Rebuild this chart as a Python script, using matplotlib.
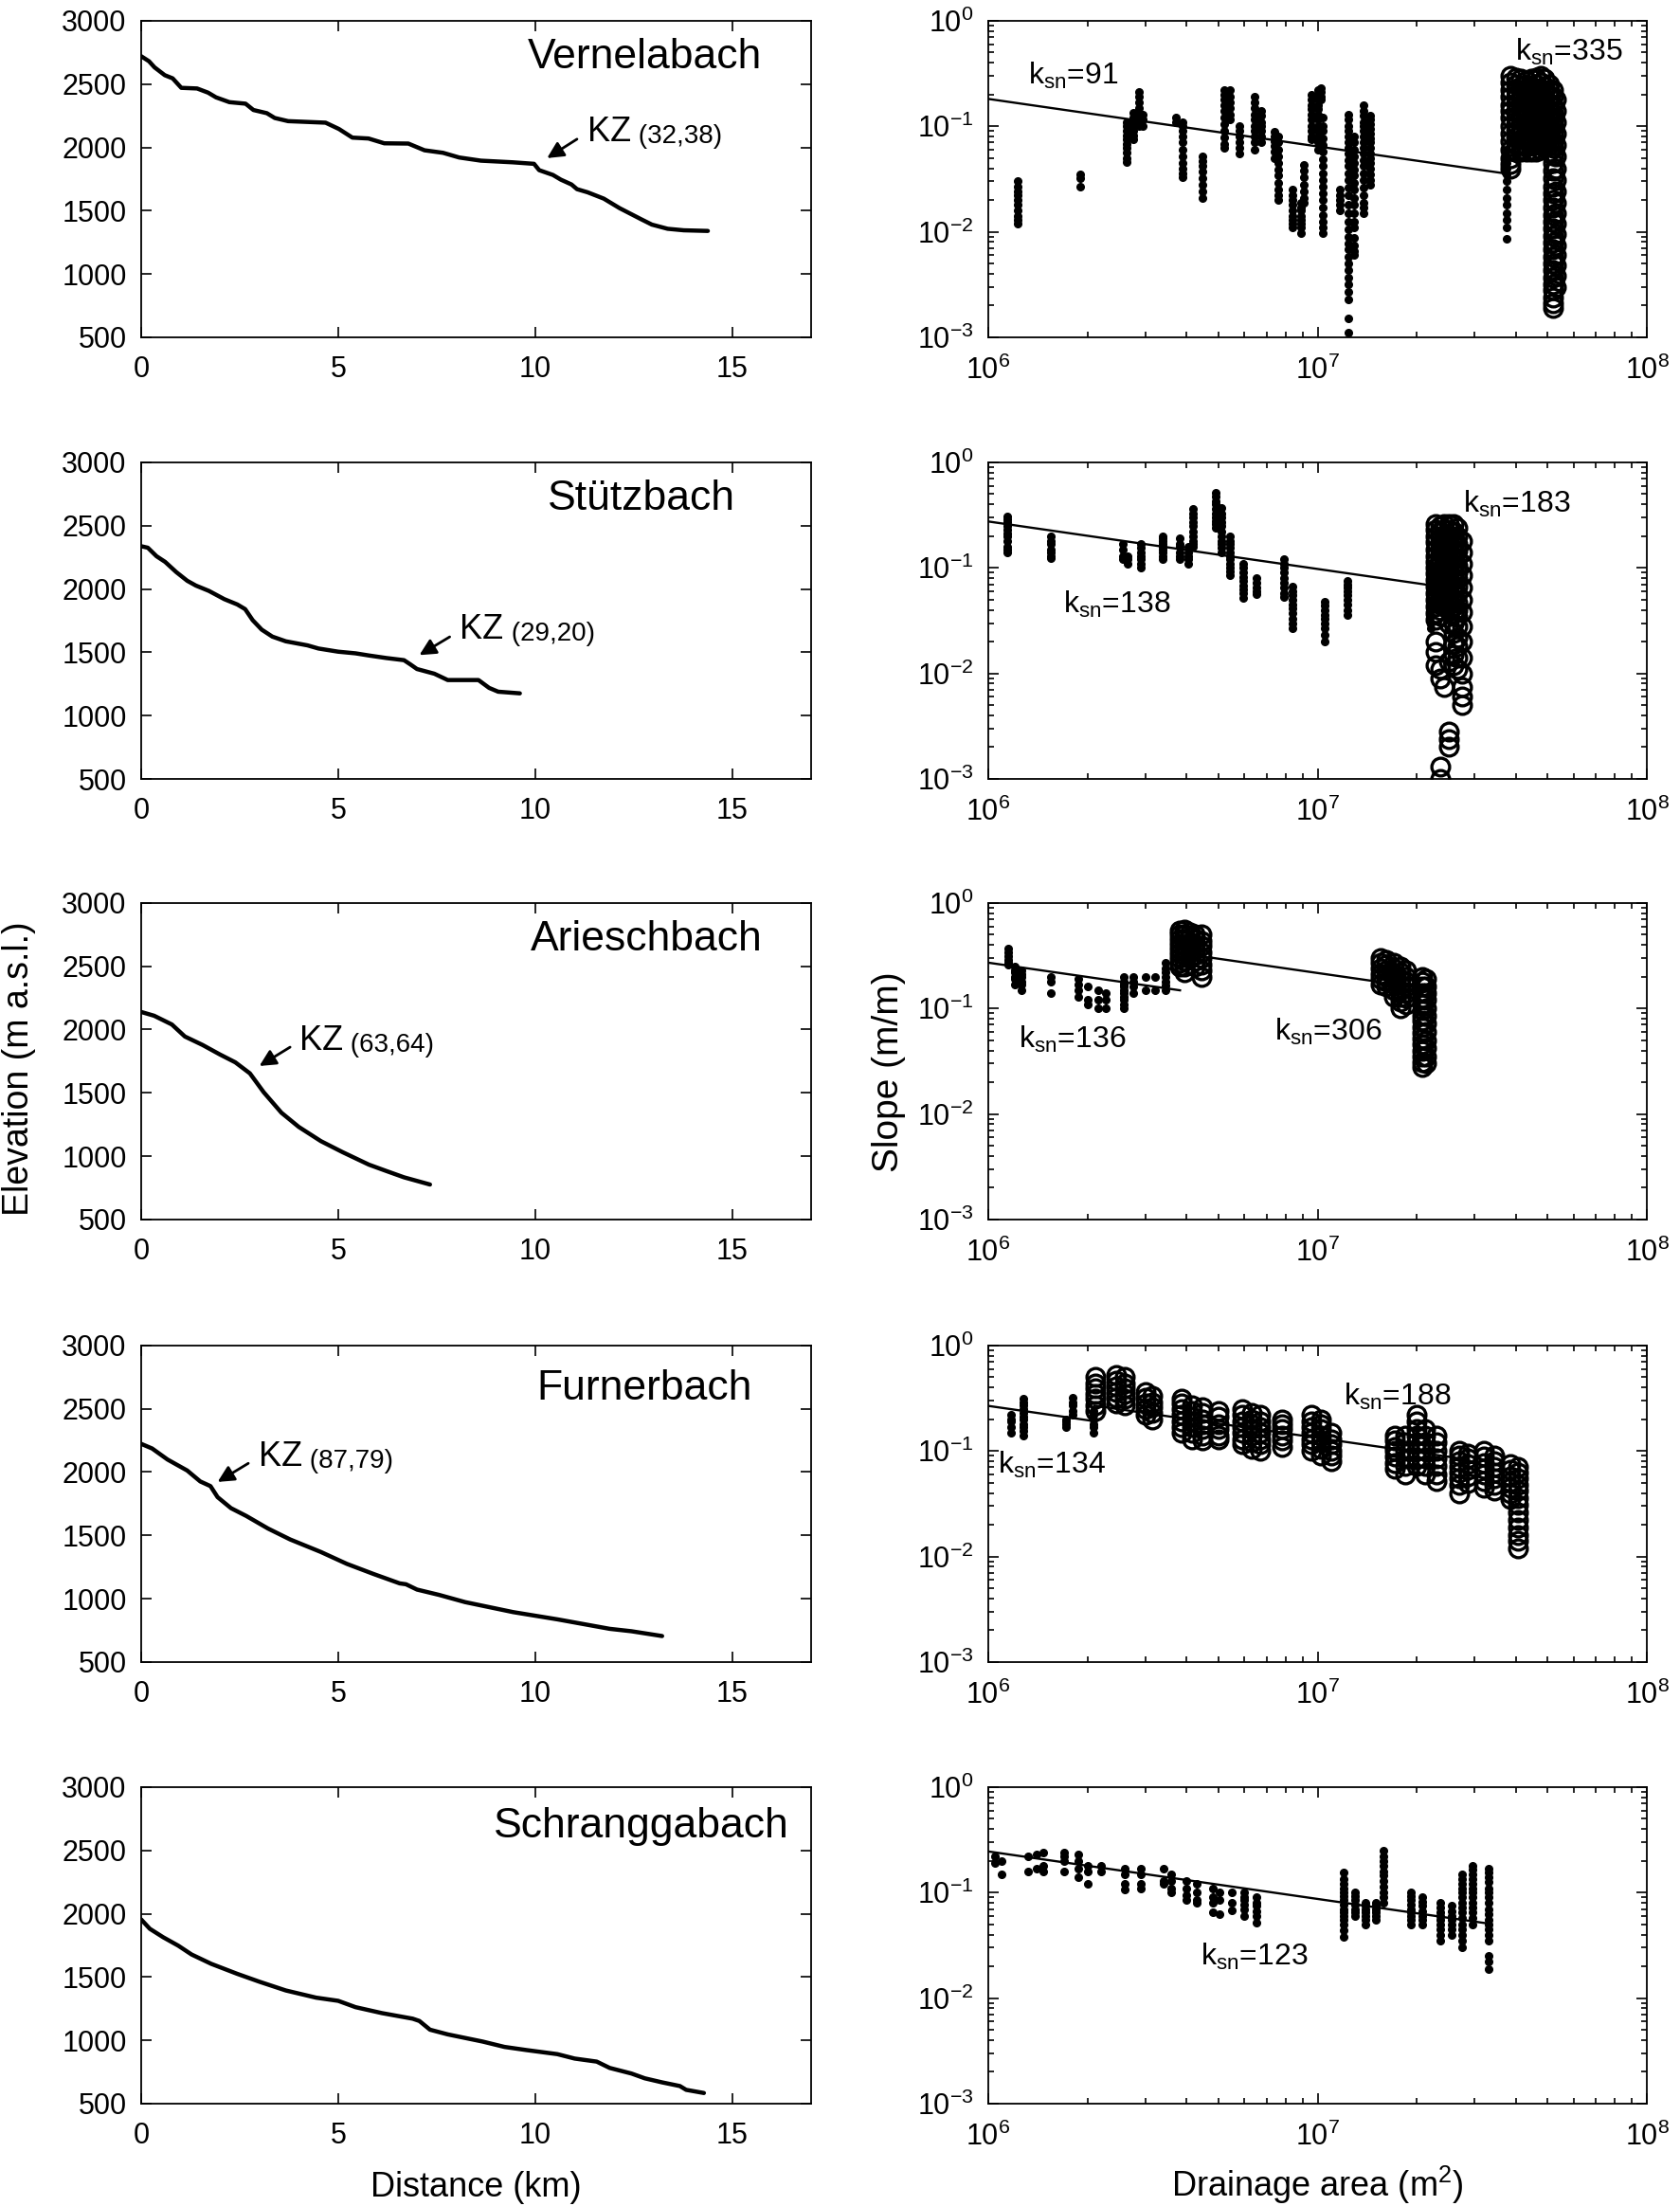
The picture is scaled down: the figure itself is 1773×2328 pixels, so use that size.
import matplotlib
matplotlib.use('Agg')
import matplotlib.pyplot as plt

plt.rcParams['font.family'] = ['Liberation Sans', 'DejaVu Sans']
plt.rcParams['mathtext.fontset'] = 'custom'
plt.rcParams['mathtext.rm'] = 'Liberation Sans'
plt.rcParams['mathtext.it'] = 'Liberation Sans:italic'
plt.rcParams['mathtext.bf'] = 'Liberation Sans:bold'

# ---------------- longitudinal profiles (distance km, elevation m) ----------------
vern_dist = [0, 0.2, 0.34, 0.6, 0.8, 1.02, 1.42, 1.7, 1.9, 2.24, 2.65, 2.85, 3.19, 3.39, 3.73,
             4.68, 5.02, 5.36, 5.77, 6.17, 6.78, 7.19, 7.66, 8.07, 8.62, 9.43, 9.97, 10.1,
             10.45, 10.65, 10.92, 11.06, 11.33, 11.74, 12.14, 12.69, 12.96, 13.36, 13.77, 14.38]
vern_elev = [2720, 2680, 2632, 2570, 2545, 2470, 2465, 2432, 2395, 2357, 2345, 2295, 2270, 2232, 2207,
             2195, 2145, 2077, 2070, 2032, 2030, 1977, 1957, 1920, 1895, 1882, 1870, 1820,
             1782, 1745, 1707, 1670, 1645, 1595, 1520, 1432, 1390, 1357, 1345, 1340]

stue_dist = [0, 0.17, 0.39, 0.61, 0.89, 1.17, 1.39, 1.72, 2.11, 2.44, 2.64, 2.83, 3.06, 3.33, 3.67,
             4.22, 4.5, 5.0, 5.44, 5.78, 6.22, 6.67, 6.83, 7.0, 7.44, 7.78, 8.56, 8.83, 9.06, 9.61]
stue_elev = [2338, 2326, 2259, 2214, 2134, 2065, 2027, 1985, 1920, 1878, 1841, 1754, 1679, 1624, 1587,
             1555, 1530, 1505, 1492, 1475, 1455, 1438, 1405, 1368, 1331, 1281, 1281, 1219, 1189, 1176]

arie_dist = [0, 0.33, 0.78, 1.11, 1.56, 2.0, 2.39, 2.76, 3.11, 3.56, 4.0, 4.56, 5.11, 5.78, 6.22,
             6.67, 7.33]
arie_elev = [2139, 2109, 2040, 1945, 1878, 1803, 1741, 1654, 1505, 1343, 1231, 1119, 1032, 933, 883,
             833, 776]

furn_dist = [0, 0.28, 0.67, 1.17, 1.5, 1.76, 1.94, 2.28, 2.67, 3.22, 3.78, 4.56, 5.22, 5.89, 6.56,
             6.72, 7.0, 7.56, 8.22, 9.44, 10.56, 11.89, 12.44, 13.22]
furn_elev = [2223, 2186, 2099, 2012, 1926, 1889, 1802, 1715, 1653, 1554, 1468, 1369, 1275, 1196, 1121,
             1114, 1072, 1030, 973, 894, 837, 762, 743, 705]

schr_dist = [0, 0.22, 0.56, 0.94, 1.28, 1.78, 2.44, 3.0, 3.67, 4.44, 5.0, 5.44, 6.11, 6.89, 7.06,
             7.33, 7.78, 8.67, 9.22, 9.78, 10.56, 11.0, 11.56, 11.89, 12.44, 12.78, 13.22, 13.67,
             13.83, 14.28]
schr_elev = [1955, 1881, 1814, 1748, 1678, 1604, 1525, 1463, 1394, 1337, 1312, 1262, 1215, 1171, 1153,
             1084, 1047, 990, 948, 923, 891, 856, 832, 782, 738, 700, 668, 639, 609, 584]

# knickzones: label, arrow tip, arrow tail, "KZ" text position (km, m)
kz_labels = ['(32,38)', '(29,20)', '(63,64)', '(87,79)', None]
kz_tip = [(10.3, 1915), (7.06, 1478), (3.0, 1712), (1.94, 1922), None]
kz_tail = [(11.06, 2065), (7.83, 1622), (3.78, 1861), (2.72, 2069), None]
kz_text = [(11.33, 2045), (8.09, 1604), (4.02, 1841), (2.98, 2050), None]

names = ['Vernelabach', 'Stützbach', 'Arieschbach', 'Furnerbach', 'Schranggabach']
name_pos = [(0.927, 0.883), (0.887, 0.885), (0.927, 0.885), (0.912, 0.862), (0.967, 0.877)]

# ---------------- slope-area data (drainage area m2, slope m/m) ----------------
vern_dot_area = [1.23e6, 1.9e6, 2.63e6, 2.75e6, 2.86e6, 2.95e6, 3.7e6, 3.9e6, 4.47e6, 5.2e6, 5.42e6,
                 5.8e6, 6.43e6, 6.73e6, 7.38e6, 7.6e6, 8.4e6, 8.9e6, 9.07e6, 9.6e6, 1.0e7, 1.02e7,
                 1.04e7, 1.17e7, 1.24e7, 1.29e7, 1.38e7, 1.44e7, 3.75e7]
vern_dot_slope = [
    [0.03, 0.027, 0.024, 0.022, 0.02, 0.018, 0.016, 0.014, 0.013, 0.012],
    [0.035, 0.032, 0.027],
    [0.11, 0.1, 0.09, 0.082, 0.075, 0.068, 0.062, 0.056, 0.05, 0.046],
    [0.133, 0.12, 0.11, 0.1, 0.09, 0.082, 0.075],
    [0.21, 0.19, 0.17, 0.15, 0.135, 0.12, 0.11, 0.1],
    [0.13, 0.115, 0.1],
    [0.12, 0.11],
    [0.11, 0.1, 0.09, 0.08, 0.07, 0.06, 0.052, 0.045, 0.04, 0.036, 0.033],
    [0.052, 0.047, 0.042, 0.037, 0.032, 0.028, 0.024, 0.021],
    [0.22, 0.2, 0.18, 0.16, 0.14, 0.12, 0.105, 0.09, 0.078, 0.068, 0.062],
    [0.22, 0.19, 0.17, 0.15, 0.13, 0.115],
    [0.1, 0.09, 0.08, 0.07, 0.062, 0.055],
    [0.19, 0.17, 0.15, 0.13, 0.115, 0.1, 0.09, 0.08, 0.07, 0.06],
    [0.14, 0.125, 0.11, 0.1, 0.09, 0.08, 0.07],
    [0.088, 0.08, 0.072, 0.065, 0.057, 0.05],
    [0.08, 0.07, 0.06, 0.052, 0.045, 0.039, 0.034, 0.029, 0.025, 0.022, 0.02],
    [0.025, 0.022, 0.02, 0.018, 0.016, 0.014, 0.013, 0.012, 0.011],
    [0.019, 0.017, 0.016, 0.014, 0.013, 0.012, 0.011, 0.0098],
    [0.043, 0.038, 0.033, 0.028, 0.024, 0.021, 0.019],
    [0.2, 0.18, 0.16, 0.145, 0.13, 0.115, 0.1, 0.09, 0.08, 0.075],
    [0.22, 0.2, 0.18, 0.16, 0.145, 0.13, 0.115, 0.1, 0.09, 0.08, 0.07, 0.06],
    [0.23, 0.21, 0.19, 0.18],
    [0.12, 0.1, 0.09, 0.077, 0.066, 0.057, 0.049, 0.042, 0.036, 0.031, 0.027, 0.023, 0.02, 0.017,
     0.0145, 0.0125, 0.011, 0.0098],
    [0.025, 0.022, 0.02, 0.018, 0.016],
    [0.13, 0.115, 0.1, 0.09, 0.08, 0.07, 0.062, 0.055, 0.048, 0.042, 0.036, 0.031, 0.026, 0.022,
     0.018, 0.015, 0.0125, 0.0105, 0.009, 0.0078, 0.0068, 0.0058, 0.005, 0.0043, 0.0037, 0.0032,
     0.0027, 0.0023, 0.0015, 0.0011],
    [0.08, 0.07, 0.06, 0.052, 0.045, 0.039, 0.034, 0.029, 0.025, 0.021, 0.018, 0.015, 0.0125,
     0.011, 0.0088, 0.0075, 0.0065, 0.006],
    [0.16, 0.14, 0.125, 0.11, 0.1, 0.09, 0.08, 0.07, 0.062, 0.055, 0.048, 0.042, 0.036, 0.031,
     0.026, 0.022, 0.019, 0.017, 0.015],
    [0.125, 0.115, 0.105, 0.095, 0.085, 0.077, 0.07, 0.062, 0.055, 0.05, 0.045, 0.04, 0.035, 0.031,
     0.028],
    [0.06, 0.052, 0.045, 0.04, 0.035, 0.03, 0.025, 0.021, 0.018, 0.015, 0.013, 0.011, 0.0085],
]
vern_circ_area = [3.85e7, 4.0e7, 4.15e7, 4.3e7, 4.45e7, 4.6e7, 4.75e7, 4.9e7, 5.05e7, 5.2e7, 5.3e7]
vern_circ_slope = [
    [0.3, 0.26, 0.22, 0.19, 0.16, 0.14, 0.12, 0.1, 0.085, 0.072, 0.06, 0.05, 0.044, 0.04],
    [0.29, 0.25, 0.22, 0.19, 0.165, 0.14, 0.12, 0.105, 0.09, 0.078, 0.066, 0.058],
    [0.28, 0.24, 0.21, 0.18, 0.155, 0.135, 0.115, 0.1, 0.088, 0.076, 0.066, 0.058],
    [0.27, 0.23, 0.2, 0.175, 0.15, 0.13, 0.112, 0.097, 0.085, 0.074, 0.064, 0.058],
    [0.28, 0.24, 0.21, 0.18, 0.155, 0.135, 0.115, 0.1, 0.088, 0.076, 0.066, 0.058],
    [0.29, 0.25, 0.22, 0.19, 0.165, 0.14, 0.12, 0.105, 0.09, 0.078, 0.066, 0.058],
    [0.3, 0.26, 0.22, 0.19, 0.165, 0.14, 0.12, 0.105, 0.09, 0.078, 0.066, 0.06],
    [0.28, 0.24, 0.21, 0.18, 0.155, 0.135, 0.115, 0.1, 0.088, 0.076, 0.066],
    [0.25, 0.22, 0.19, 0.165, 0.14, 0.12, 0.105, 0.09, 0.078, 0.066, 0.057],
    [0.22, 0.19, 0.16, 0.135, 0.115, 0.1, 0.085, 0.072, 0.062, 0.053, 0.045, 0.038, 0.032, 0.027,
     0.023, 0.02, 0.017, 0.0145, 0.0125, 0.0107, 0.0092, 0.0079, 0.0068, 0.0058, 0.005, 0.0043,
     0.0037, 0.0032, 0.0028, 0.0024, 0.0021, 0.0019],
    [0.18, 0.14, 0.11, 0.085, 0.066, 0.052, 0.04, 0.031, 0.024, 0.019, 0.015, 0.012, 0.0095,
     0.0075, 0.006, 0.0048, 0.0038, 0.003],
]

stue_dot_area = [1.14e6, 1.55e6, 2.56e6, 2.65e6, 2.9e6, 3.38e6, 3.8e6, 4.05e6, 4.17e6, 4.9e6, 5.1e6,
                 5.4e6, 5.96e6, 6.5e6, 7.9e6, 8.4e6, 1.05e7, 1.23e7, 2.2e7]
stue_dot_slope = [
    [0.31, 0.29, 0.27, 0.25, 0.23, 0.21, 0.2, 0.18, 0.16, 0.15, 0.14],
    [0.2, 0.18, 0.17, 0.15, 0.14, 0.13, 0.123],
    [0.17, 0.15, 0.13, 0.12],
    [0.13, 0.12, 0.11],
    [0.17, 0.155, 0.14, 0.13, 0.12, 0.11, 0.1],
    [0.2, 0.19, 0.18, 0.17, 0.16, 0.15, 0.14, 0.13, 0.12],
    [0.19, 0.17, 0.16, 0.14, 0.13, 0.12],
    [0.16, 0.14, 0.13, 0.12, 0.11],
    [0.36, 0.33, 0.3, 0.27, 0.25, 0.22, 0.2, 0.18, 0.17, 0.16],
    [0.52, 0.47, 0.43, 0.4, 0.36, 0.33, 0.3, 0.28, 0.26, 0.24],
    [0.37, 0.33, 0.3, 0.27, 0.25, 0.22, 0.2, 0.18, 0.17, 0.155, 0.14],
    [0.2, 0.18, 0.17, 0.155, 0.14, 0.13, 0.12, 0.11, 0.1, 0.092, 0.085],
    [0.11, 0.1, 0.09, 0.082, 0.075, 0.068, 0.062, 0.057, 0.052],
    [0.08, 0.072, 0.065, 0.06, 0.056],
    [0.12, 0.11, 0.1, 0.09, 0.08, 0.072, 0.065, 0.058, 0.053],
    [0.066, 0.06, 0.055, 0.05, 0.045, 0.041, 0.037, 0.033, 0.03, 0.027],
    [0.048, 0.044, 0.04, 0.036, 0.033, 0.03, 0.027, 0.023, 0.02],
    [0.075, 0.07, 0.065, 0.06, 0.055, 0.05, 0.045, 0.04, 0.036],
    [0.1, 0.085, 0.07, 0.06, 0.05, 0.042, 0.035, 0.03, 0.027],
]
stue_circ_area = [2.28e7, 2.35e7, 2.42e7, 2.5e7, 2.58e7, 2.66e7, 2.75e7]
stue_circ_slope = [
    [0.26, 0.23, 0.2, 0.175, 0.15, 0.13, 0.115, 0.1, 0.088, 0.077, 0.066, 0.057, 0.05, 0.043,
     0.037, 0.032, 0.02, 0.016, 0.012],
    [0.25, 0.22, 0.19, 0.165, 0.145, 0.125, 0.11, 0.095, 0.082, 0.07, 0.06, 0.052, 0.045, 0.04,
     0.035, 0.011, 0.009, 0.0013, 0.001],
    [0.26, 0.23, 0.2, 0.175, 0.15, 0.13, 0.115, 0.1, 0.088, 0.077, 0.066, 0.057, 0.05, 0.043,
     0.0075],
    [0.26, 0.23, 0.2, 0.17, 0.145, 0.125, 0.11, 0.095, 0.082, 0.07, 0.06, 0.052, 0.045, 0.04, 0.03,
     0.013, 0.0028, 0.0024, 0.002],
    [0.26, 0.22, 0.19, 0.165, 0.14, 0.12, 0.105, 0.09, 0.078, 0.066, 0.057, 0.05, 0.043, 0.037,
     0.03, 0.024, 0.019, 0.015, 0.012],
    [0.24, 0.2, 0.17, 0.145, 0.125, 0.105, 0.09, 0.078, 0.066, 0.056, 0.047, 0.04, 0.034, 0.028,
     0.022, 0.018, 0.014, 0.011],
    [0.18, 0.14, 0.11, 0.085, 0.065, 0.05, 0.038, 0.028, 0.02, 0.014, 0.01, 0.0075, 0.006, 0.005],
]

arie_dot_area = [1.15e6, 1.2e6, 1.26e6, 1.55e6, 1.88e6, 2.0e6, 2.15e6, 2.28e6, 2.58e6, 2.75e6, 3.0e6,
                 3.2e6, 3.45e6]
arie_dot_slope = [
    [0.37, 0.34, 0.31, 0.29, 0.27, 0.26],
    [0.25, 0.23, 0.22, 0.2, 0.19, 0.17],
    [0.23, 0.21, 0.2, 0.18, 0.17, 0.15],
    [0.2, 0.18, 0.14],
    [0.19, 0.17, 0.15, 0.13],
    [0.16, 0.12, 0.11],
    [0.15, 0.12, 0.1],
    [0.14, 0.12, 0.1],
    [0.2, 0.18, 0.17, 0.16, 0.15, 0.14, 0.13, 0.12, 0.11, 0.1],
    [0.2, 0.18, 0.16, 0.14],
    [0.2, 0.15],
    [0.2, 0.15],
    [0.27, 0.24, 0.22, 0.2, 0.18, 0.165, 0.15],
]
arie_circ_area = [3.8e6, 3.95e6, 4.1e6, 4.25e6, 4.45e6, 1.55e7, 1.62e7, 1.7e7, 1.78e7, 1.86e7,
                  2.08e7, 2.14e7]
arie_circ_slope = [
    [0.55, 0.5, 0.45, 0.41, 0.37, 0.33, 0.3, 0.27, 0.25],
    [0.56, 0.5, 0.45, 0.4, 0.36, 0.32, 0.28, 0.25, 0.22],
    [0.53, 0.47, 0.42, 0.38, 0.34, 0.3],
    [0.5, 0.45, 0.4, 0.36, 0.32, 0.28, 0.25],
    [0.5, 0.44, 0.39, 0.34, 0.3, 0.26, 0.23, 0.2],
    [0.3, 0.27, 0.24, 0.21, 0.19, 0.17],
    [0.29, 0.26, 0.23, 0.2, 0.18, 0.16],
    [0.27, 0.24, 0.21, 0.19, 0.17, 0.15, 0.13],
    [0.25, 0.22, 0.19, 0.17, 0.15, 0.13, 0.115, 0.1],
    [0.23, 0.2, 0.18, 0.16, 0.14, 0.125, 0.11],
    [0.2, 0.18, 0.16, 0.14, 0.125, 0.11, 0.097, 0.086, 0.076, 0.067, 0.059, 0.052, 0.046, 0.04,
     0.035, 0.031, 0.028],
    [0.19, 0.16, 0.14, 0.12, 0.1, 0.085, 0.072, 0.06, 0.05, 0.042, 0.035, 0.03],
]

furn_dot_area = [1.17e6, 1.28e6, 1.72e6, 1.8e6, 2.08e6]
furn_dot_slope = [
    [0.22, 0.2, 0.19, 0.17, 0.15],
    [0.31, 0.29, 0.27, 0.25, 0.23, 0.21, 0.2, 0.18, 0.17, 0.155, 0.14],
    [0.2, 0.19, 0.18, 0.17],
    [0.32, 0.29, 0.27, 0.24, 0.22],
    [0.24, 0.22, 0.2, 0.18, 0.17, 0.15],
]
furn_circ_area = [2.12e6, 2.45e6, 2.6e6, 3.0e6, 3.15e6, 3.85e6, 4.15e6, 4.46e6, 5.0e6, 5.9e6, 6.3e6,
                  6.7e6, 7.8e6, 9.6e6, 1.02e7, 1.1e7, 1.72e7, 1.85e7, 2.0e7, 2.12e7, 2.3e7, 2.7e7,
                  2.85e7, 3.2e7, 3.45e7, 3.85e7, 4.05e7]
furn_circ_slope = [
    [0.5, 0.44, 0.39, 0.35, 0.31, 0.27, 0.24],
    [0.52, 0.46, 0.41, 0.36, 0.32, 0.28],
    [0.5, 0.44, 0.39, 0.35, 0.31, 0.27],
    [0.36, 0.32, 0.28, 0.25, 0.22],
    [0.33, 0.29, 0.26, 0.23, 0.2],
    [0.31, 0.28, 0.25, 0.22, 0.19, 0.17, 0.15],
    [0.27, 0.24, 0.21, 0.19, 0.17, 0.15, 0.13],
    [0.26, 0.23, 0.2, 0.18, 0.16, 0.14, 0.125],
    [0.24, 0.21, 0.18, 0.16, 0.14, 0.13],
    [0.25, 0.22, 0.19, 0.17, 0.15, 0.13, 0.115],
    [0.23, 0.2, 0.18, 0.16, 0.14, 0.12, 0.105],
    [0.22, 0.19, 0.17, 0.15, 0.13, 0.115, 0.1],
    [0.2, 0.18, 0.16, 0.14, 0.125, 0.11],
    [0.22, 0.19, 0.17, 0.15, 0.13, 0.115, 0.1],
    [0.2, 0.18, 0.16, 0.14, 0.12, 0.105, 0.09],
    [0.15, 0.13, 0.115, 0.1, 0.09, 0.08],
    [0.14, 0.125, 0.11, 0.1, 0.088, 0.077, 0.068],
    [0.14, 0.12, 0.1, 0.085, 0.072, 0.06],
    [0.22, 0.19, 0.16, 0.14, 0.12, 0.1, 0.085, 0.072],
    [0.16, 0.14, 0.12, 0.1, 0.085, 0.072, 0.06],
    [0.14, 0.12, 0.1, 0.085, 0.072, 0.06, 0.052],
    [0.1, 0.09, 0.08, 0.07, 0.062, 0.055, 0.048, 0.04],
    [0.095, 0.085, 0.075, 0.066, 0.058, 0.05],
    [0.1, 0.088, 0.077, 0.068, 0.06, 0.052, 0.045],
    [0.09, 0.08, 0.07, 0.062, 0.055, 0.048, 0.042],
    [0.075, 0.066, 0.058, 0.051, 0.045, 0.04, 0.035],
    [0.07, 0.062, 0.055, 0.048, 0.042, 0.036, 0.031, 0.026, 0.022, 0.019, 0.016, 0.014, 0.012],
]

schr_dot_area = [1.05e6, 1.1e6, 1.32e6, 1.4e6, 1.47e6, 1.7e6, 1.87e6, 2.0e6, 2.2e6, 2.6e6, 2.9e6,
                 3.4e6, 3.6e6, 4.0e6, 4.3e6, 4.8e6, 5.05e6, 5.5e6, 6.0e6, 6.5e6, 1.2e7, 1.3e7,
                 1.4e7, 1.5e7, 1.58e7, 1.92e7, 2.08e7, 2.35e7, 2.55e7, 2.75e7, 2.95e7, 3.3e7]
schr_dot_slope = [
    [0.22, 0.19], [0.2, 0.15], [0.22, 0.16], [0.23, 0.17], [0.24, 0.18, 0.16],
    [0.24, 0.22, 0.2, 0.16], [0.23, 0.2, 0.17, 0.14], [0.18, 0.16, 0.12], [0.18, 0.16],
    [0.17, 0.15, 0.12, 0.106], [0.17, 0.15, 0.12, 0.11], [0.17, 0.13, 0.12],
    [0.15, 0.13, 0.11, 0.1], [0.13, 0.11, 0.095, 0.085], [0.12, 0.1, 0.085, 0.08],
    [0.11, 0.09, 0.08, 0.065], [0.1, 0.085, 0.063], [0.1, 0.08, 0.068],
    [0.1, 0.09, 0.085, 0.077, 0.07, 0.06], [0.09, 0.08, 0.075, 0.066, 0.06, 0.052],
    [0.155, 0.135, 0.12, 0.11, 0.1, 0.092, 0.085, 0.077, 0.07, 0.065, 0.06, 0.055, 0.05, 0.044,
     0.038],
    [0.1, 0.092, 0.085, 0.077, 0.07, 0.065, 0.06], [0.08, 0.075, 0.07, 0.065, 0.06, 0.055, 0.05],
    [0.08, 0.075, 0.07, 0.065, 0.06, 0.055],
    [0.25, 0.22, 0.2, 0.18, 0.16, 0.145, 0.13, 0.115, 0.1, 0.09, 0.08],
    [0.1, 0.092, 0.085, 0.077, 0.07, 0.065, 0.06, 0.055, 0.05],
    [0.09, 0.082, 0.075, 0.067, 0.06, 0.055, 0.05],
    [0.08, 0.072, 0.065, 0.06, 0.055, 0.05, 0.045, 0.04, 0.035],
    [0.075, 0.067, 0.06, 0.055, 0.05, 0.045, 0.04],
    [0.15, 0.135, 0.12, 0.11, 0.1, 0.09, 0.08, 0.072, 0.065, 0.058, 0.05, 0.045, 0.04, 0.035, 0.03],
    [0.18, 0.165, 0.15, 0.135, 0.12, 0.11, 0.1, 0.09, 0.08, 0.072, 0.065, 0.058, 0.05],
    [0.17, 0.155, 0.14, 0.125, 0.11, 0.1, 0.09, 0.08, 0.07, 0.062, 0.055, 0.05, 0.045, 0.04,
     0.035, 0.025, 0.022, 0.019],
]
schr_circ_area = []
schr_circ_slope = []

# steepness fits, S = ksn * A^-theta, drawn between the listed areas
theta_ref = 0.45
fit_ksn = [[91], [138], [136, 306], [134, 188], [123]]
fit_range = [[(1e6, 3.6e7)], [(1e6, 2.2e7)], [(1e6, 3.82e6), (3.85e6, 1.52e7)],
             [(1e6, 2.1e6), (2.1e6, 2.7e7)], [(1e6, 3.37e7)]]
ksn_labels = [[('91', 0.06, 0.80), ('335', 0.80, 0.873)],
              [('138', 0.113, 0.525), ('183', 0.721, 0.841)],
              [('136', 0.046, 0.542), ('306', 0.434, 0.567)],
              [('134', 0.014, 0.597), ('188', 0.539, 0.811)],
              [('123', 0.322, 0.437)]]

profiles = [(vern_dist, vern_elev), (stue_dist, stue_elev), (arie_dist, arie_elev),
            (furn_dist, furn_elev), (schr_dist, schr_elev)]
sa_data = [(vern_dot_area, vern_dot_slope, vern_circ_area, vern_circ_slope),
           (stue_dot_area, stue_dot_slope, stue_circ_area, stue_circ_slope),
           (arie_dot_area, arie_dot_slope, arie_circ_area, arie_circ_slope),
           (furn_dot_area, furn_dot_slope, furn_circ_area, furn_circ_slope),
           (schr_dot_area, schr_dot_slope, schr_circ_area, schr_circ_slope)]


def flatten(areas, slopes):
    xs, ys = [], []
    for a, ss in zip(areas, slopes):
        xs += [a] * len(ss)
        ys += list(ss)
    return xs, ys


def style_axes(ax):
    for sp in ax.spines.values():
        sp.set_linewidth(1.3)
    ax.tick_params(which='both', direction='in', top=True, right=True, labelsize=22, width=1.2)
    ax.tick_params(which='major', length=8)
    ax.tick_params(which='minor', length=4)
    ax.tick_params(axis='x', which='major', pad=14)
    ax.tick_params(axis='y', which='major', pad=11)


fig = plt.figure(figsize=(17.73, 23.28), dpi=100)

row_y0 = [0.8471, 0.6469, 0.4472, 0.2466, 0.0464]
row_h = 0.1435

for i in range(5):
    # ----- profile -----
    ax = fig.add_axes([0.0840, row_y0[i], 0.3988, row_h])
    dist, elev = profiles[i]
    ax.plot(dist, elev, color='k', lw=3.2, solid_capstyle='round', solid_joinstyle='round')
    ax.set_xlim(0, 17)
    ax.set_ylim(500, 3000)
    ax.set_xticks([0, 5, 10, 15])
    ax.set_yticks([500, 1000, 1500, 2000, 2500, 3000])
    style_axes(ax)
    ax.text(name_pos[i][0], name_pos[i][1], names[i], transform=ax.transAxes,
            ha='right', va='center', fontsize=32)
    if kz_labels[i] is not None:
        ax.annotate('', xy=kz_tip[i], xytext=kz_tail[i],
                    arrowprops=dict(arrowstyle='-|>', color='k', lw=2, mutation_scale=26,
                                    shrinkA=0, shrinkB=0))
        t = ax.text(kz_text[i][0], kz_text[i][1], 'KZ', fontsize=26, ha='left', va='baseline')
        ax.annotate(' ' + kz_labels[i], xy=(1, 0), xycoords=t, ha='left', va='bottom',
                    fontsize=20)

    # ----- slope-area -----
    bx = fig.add_axes([0.5883, row_y0[i], 0.392, row_h])
    bx.set_xscale('log')
    bx.set_yscale('log')
    dot_a, dot_s, circ_a, circ_s = sa_data[i]
    x, y = flatten(dot_a, dot_s)
    bx.plot(x, y, 'o', ms=5.5, color='k', mec='k', ls='none')
    if circ_a:
        x, y = flatten(circ_a, circ_s)
        bx.plot(x, y, 'o', ms=13.5, mfc='none', mec='k', mew=2.4, ls='none')
    for k, (a0, a1) in zip(fit_ksn[i], fit_range[i]):
        bx.plot([a0, a1], [k * a0 ** -theta_ref, k * a1 ** -theta_ref], color='k', lw=1.7)
    for val, fx, fy in ksn_labels[i]:
        bx.text(fx, fy, r'k$_{\mathrm{sn}}$=' + val, transform=bx.transAxes,
                ha='left', va='baseline', fontsize=23)
    bx.set_xlim(1e6, 1e8)
    bx.set_ylim(1e-3, 1e0)
    style_axes(bx)

fig.text(502 / 1773, 1 - 2318 / 2328, 'Distance (km)', ha='center', va='baseline', fontsize=26)
fig.text(1390 / 1773, 1 - 2318 / 2328, r'Drainage area (m$^{\mathrm{2}}$)', ha='center',
         va='baseline', fontsize=26)
fig.text(20 / 1773, 1 - 1128 / 2328, 'Elevation (m a.s.l.)', ha='center', va='center',
         rotation=90, fontsize=27)
fig.text(938 / 1773, 1 - 1131 / 2328, 'Slope (m/m)', ha='center', va='center',
         rotation=90, fontsize=28)

fig.savefig('out.png', dpi=100, facecolor='white')
